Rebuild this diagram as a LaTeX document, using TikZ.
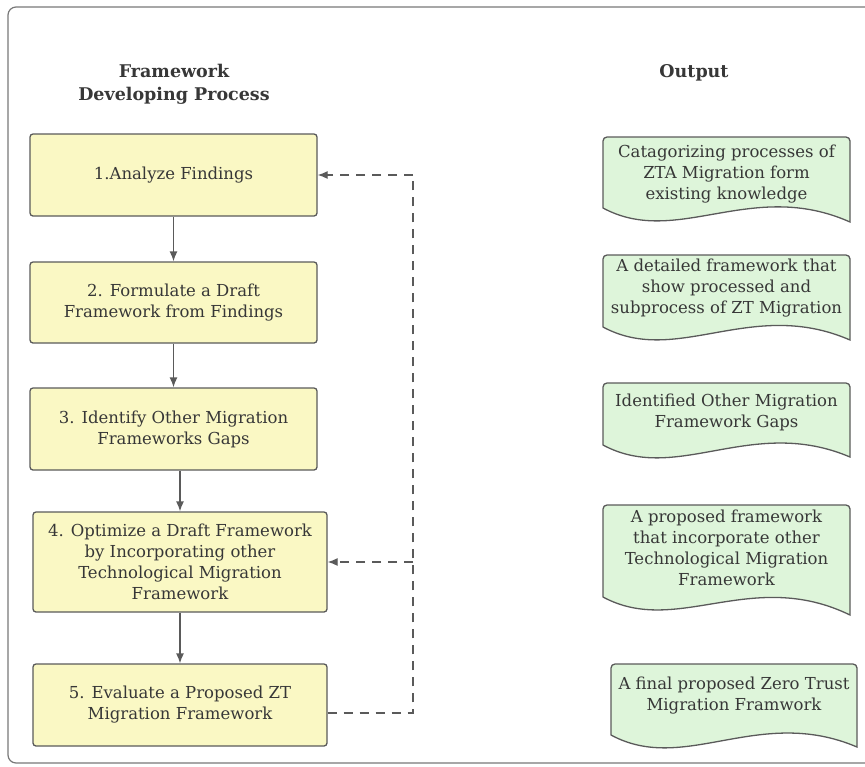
\documentclass[tikz,border=0pt]{standalone}
\usepackage{fontspec}
\setmainfont{DejaVu Serif}
\usetikzlibrary{arrows.meta,calc}
\definecolor{boxyellow}{RGB}{250,248,196}
\definecolor{docgreen}{RGB}{222,245,218}
\definecolor{linegray}{RGB}{90,90,90}
\definecolor{txtgray}{RGB}{55,55,55}
\definecolor{framegray}{RGB}{120,120,120}
\tikzset{
  stepbox/.style={draw=linegray, fill=boxyellow, line width=1.3pt, rounded corners=3pt,
    align=center, text=txtgray, font=\fontsize{16.5}{21}\selectfont, inner sep=0pt},
  doctext/.style={align=center, text=txtgray, font=\fontsize{16.5}{21}\selectfont, inner sep=0pt},
  doc/.style={draw=linegray, fill=docgreen, line width=1.3pt},
  head/.style={align=center, text=txtgray, font=\fontsize{17.5}{23}\selectfont\bfseries},
  flow/.style={draw=linegray, line width=1.3pt, -{Latex[length=10pt,width=8pt]}},
  fb/.style={draw=linegray, line width=1.3pt, dash pattern=on 9pt off 7pt},
}
\newcommand{\docshape}[5]{% x1, top, x2, yL, yR
  \path[doc] (#1,#4) -- (#1,#2+4) arc[start angle=180,end angle=90,radius=4pt] -- (#3-4,#2)
    arc[start angle=90,end angle=0,radius=4pt] -- (#3,#5)
    .. controls ({#1+0.6*(#3-#1)},#4-30) and ({#1+0.3*(#3-#1)},#4+40) .. (#1,#4) -- cycle;}
\begin{document}
\begin{tikzpicture}[x=1pt,y=-1pt]
\useasboundingbox (0,0) rectangle (865,766);
% outer frame
\draw[framegray, line width=1.2pt, rounded corners=8pt] (880,7) -- (8,7) -- (8,763) -- (880,763);
% headings
\node[head] (h1) at (174,84) {Framework\\Developing Process};
\node[head] (h2) at (694,73) {Output};
% process boxes
\node[stepbox, minimum width=287pt, minimum height=82pt] (b1) at (173.5,175) {1.Analyze Findings};
\node[stepbox, minimum width=287pt, minimum height=81pt] (b2) at (173.5,302.5) {2. Formulate a Draft\\Framework from Findings};
\node[stepbox, minimum width=287pt, minimum height=82pt] (b3) at (173.5,429) {3. Identify Other Migration\\Frameworks Gaps};
\node[stepbox, minimum width=294pt, minimum height=100pt] (b4) at (180,562) {4. Optimize a Draft Framework\\by Incorporating other\\Technological Migration\\Framework};
\node[stepbox, minimum width=294pt, minimum height=82pt] (b5) at (180,705) {5. Evaluate a Proposed ZT\\Migration Framework};
% flow arrows
\draw[flow] (b1.south) -- (b2.north);
\draw[flow] (b2.south) -- (b3.north);
\draw[flow] (b4.north |- b3.south) -- (b4.north);
\draw[flow] (b4.south) -- (b5.north);
% feedback loop
\coordinate (c5) at (413,713);
\coordinate (c1) at (413,175);
\coordinate (c4) at (413,562);
\draw[fb] ($(b5.east)+(0,8)$) -- (c5) -- (c1);
\draw[fb, -{Latex[length=10pt,width=8pt]}] (c1) -- (b1.east);
\draw[fb, -{Latex[length=10pt,width=8pt]}] (c4) -- (b4.east);
% output documents
\docshape{603}{137}{850}{208}{222}
\node[doctext] (o1) at (726.5,174) {Catagorizing processes of\\ZTA Migration form\\existing knowledge};
\docshape{603}{255}{850}{327}{340}
\node[doctext] (o2) at (726.5,288) {A detailed framework that\\show processed and\\subprocess of ZT Migration};
\docshape{603}{383}{850}{445}{457}
\node[doctext] (o3) at (726.5,412) {Identified Other Migration\\Framework Gaps};
\docshape{603}{505}{850}{597}{615}
\node[doctext] (o4) at (726.5,548) {A proposed framework\\that incorporate other\\Technological Migration\\Framework};
\docshape{611}{664}{857}{735}{747}
\node[doctext] (o5) at (734,696) {A final proposed Zero Trust\\Migration Framwork};
\end{tikzpicture}
\end{document}
